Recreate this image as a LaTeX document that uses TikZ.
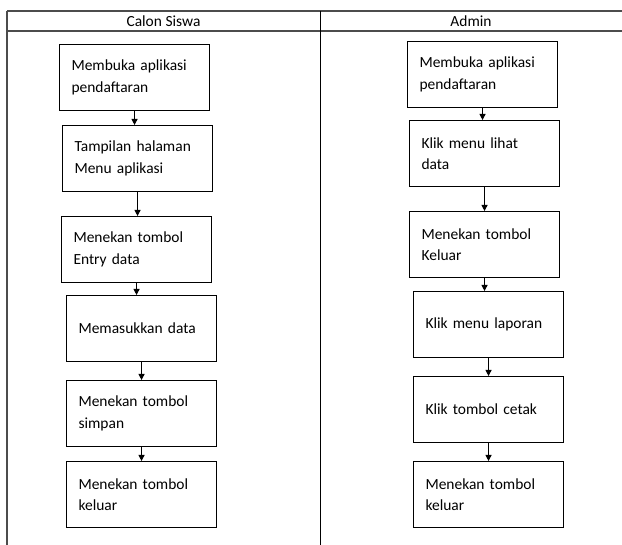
\documentclass[tikz,border=0pt]{standalone}
\usepackage{fontspec}
\setmainfont{Carlito}
\usetikzlibrary{arrows.meta}

\begin{document}
\begin{tikzpicture}[x=0.75pt,y=-0.75pt,font=\fontsize{11.6}{16}\selectfont]
    \tikzset{langkah/.style = {shape=rectangle,draw,line width=0.8pt,anchor=north west,
        minimum width=112.5pt,minimum height=49.5pt,inner xsep=9pt,
        text width=94.5pt,align=left},
        panah/.style = {-{Triangle[length=4.5pt,width=4.5pt]},line width=0.8pt}}

    \useasboundingbox (0,0) rectangle (622,545);

    % Garis tabel dan judul kolom
    \draw[line width=0.9pt,black!70] (7,11) -- (622,11) (7,31) -- (622,31) (7,11) -- (7,545);
    \draw[line width=0.75pt] (320,11) -- (320,545);
    \node (hSiswa) at (163.5,21) {Calon Siswa};
    \node (hAdmin) at (471,21) {Admin};

    % Langkah calon siswa
    \foreach \pos/\name/\isi in {{(59,44)/S1/Membuka aplikasi\\pendaftaran},
            {(62,125)/S2/Tampilan halaman\\Menu aplikasi},
            {(61,216)/S3/Menekan tombol\\Entry data},
            {(66,295)/S4/Memasukkan data},
            {(66,380)/S5/Menekan tombol\\simpan},
            {(66,461)/S6/Menekan tombol\\keluar}}
        \node[langkah] (\name) at \pos {\isi};

    % Langkah admin
    \foreach \pos/\name/\isi in {{(407,41)/A1/Membuka aplikasi\\pendaftaran},
            {(409,120)/A2/Klik menu lihat\\data},
            {(409,211)/A3/Menekan tombol\\Keluar},
            {(413,291)/A4/Klik menu laporan},
            {(413,376)/A5/Klik tombol cetak},
            {(413,461)/A6/Menekan tombol\\keluar}}
        \node[langkah] (\name) at \pos {\isi};

    % Panah antar langkah
    \foreach \source/\target in {S1/S2, S2/S3, S3/S4, S4/S5, S5/S6,
            A1/A2, A2/A3, A3/A4, A4/A5, A5/A6}
        \draw[panah] (\source.south) -- (\source.south |- \target.north);
\end{tikzpicture}
\end{document}
